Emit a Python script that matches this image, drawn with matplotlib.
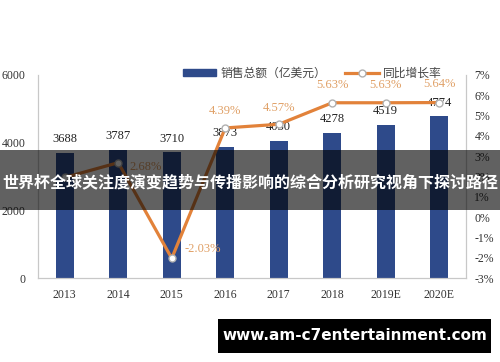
import matplotlib
matplotlib.use('Agg')
import matplotlib.pyplot as plt
from matplotlib.patches import Patch, Rectangle
from matplotlib.lines import Line2D

years = ['2013', '2014', '2015', '2016', '2017', '2018', '2019E', '2020E']
sales = [3688, 3787, 3710, 3873, 4050, 4278, 4519, 4774]
growth = [1.95, 2.68, -2.03, 4.39, 4.57, 5.63, 5.63, 5.64]
growth_labels = ['', '2.68%', '-2.03%', '4.39%', '4.57%', '5.63%', '5.63%', '5.64%']
left_ticks = [0, 2000, 4000, 6000]
right_ticks = list(range(-3, 8))

serif = 'Liberation Serif'
cjk = ['Noto Sans CJK SC', 'DejaVu Sans']
bar_color = '#2E4A8A'
line_color = '#E2823A'
pct_color = '#E0A066'

fig = plt.figure(figsize=(5, 3.62), dpi=100)
ax = fig.add_axes([0.076, 0.232, 0.856, 0.561])
ax2 = ax.twinx()

x = list(range(len(years)))
ax.bar(x, sales, width=0.34, color=bar_color, zorder=2)
for xi, v in zip(x, sales):
    ax.annotate(str(v), (xi, v), xytext=(0, 10), textcoords='offset points',
                ha='center', va='center', fontsize=9, family=serif, color='#222222', zorder=5)

ax.set_xlim(-0.5, 7.5)
ax.set_ylim(0, 6000)
ax.set_yticks(left_ticks)
ax.set_xticks(x)
ax.set_xticklabels(years)

ax2.plot(x, growth, color=line_color, lw=2.3, marker='o', markersize=5,
         markerfacecolor='white', markeredgecolor='#b0b0b0', markeredgewidth=1, zorder=4)
ax2.set_ylim(-3, 7)
ax2.set_yticks(right_ticks)
ax2.set_yticklabels([f'{t}%' for t in right_ticks])

offsets = [(0, 0), (8, -3), (9, 7), (0, 12), (0, 12), (0, 13), (0, 13), (0, 13)]
for xi, g, lab, off in zip(x, growth, growth_labels, offsets):
    if not lab:
        continue
    ha = 'left' if off[0] > 0 else 'center'
    ax2.annotate(lab, (xi, g), xytext=off, textcoords='offset points',
                 ha=ha, va='center', fontsize=9, family=serif, color=pct_color, zorder=5)

for a in (ax, ax2):
    a.spines['top'].set_visible(False)
    for s in ('left', 'right', 'bottom'):
        a.spines[s].set_color('#c8c8c8')
    a.tick_params(length=0, labelsize=8.5, labelcolor='#333333')
    for t in a.get_xticklabels() + a.get_yticklabels():
        t.set_family(serif)
ax.tick_params(axis='x', pad=8)
ax.tick_params(axis='y', pad=9)
ax2.tick_params(axis='y', pad=6)

handles = [Patch(color=bar_color),
           Line2D([0], [0], color=line_color, lw=2.3, marker='o', markersize=5,
                  markerfacecolor='white', markeredgecolor='#b0b0b0')]
leg = fig.legend(handles, ['销售总额（亿美元）', '同比增长率'], loc='center',
                 bbox_to_anchor=(0.625, 0.798), ncol=2, frameon=False,
                 prop={'family': cjk, 'size': 8.5}, handlelength=2.8, handleheight=0.5,
                 columnspacing=1.6, handletextpad=0.4)
for t in leg.get_texts():
    t.set_color('#444444')

# title banner across the middle
fig.patches.append(Rectangle((0, 0.42), 1, 0.166, transform=fig.transFigure,
                             facecolor='black', alpha=0.62, zorder=10))
fig.text(0.5, 0.497, '世界杯全球关注度演变趋势与传播影响的综合分析研究视角下探讨路径',
         ha='center', va='center', color='white', fontsize=11.5, fontweight='bold',
         family=cjk, zorder=11)

# site watermark
fig.patches.append(Rectangle((0.436, 0.025), 0.546, 0.094, transform=fig.transFigure,
                             facecolor='black', zorder=10))
fig.text(0.709, 0.072, 'www.am-c7entertainment.com', ha='center', va='center',
         color='white', fontsize=11, fontweight='bold', family='DejaVu Sans', zorder=11)

fig.savefig('out.png', dpi=100)
